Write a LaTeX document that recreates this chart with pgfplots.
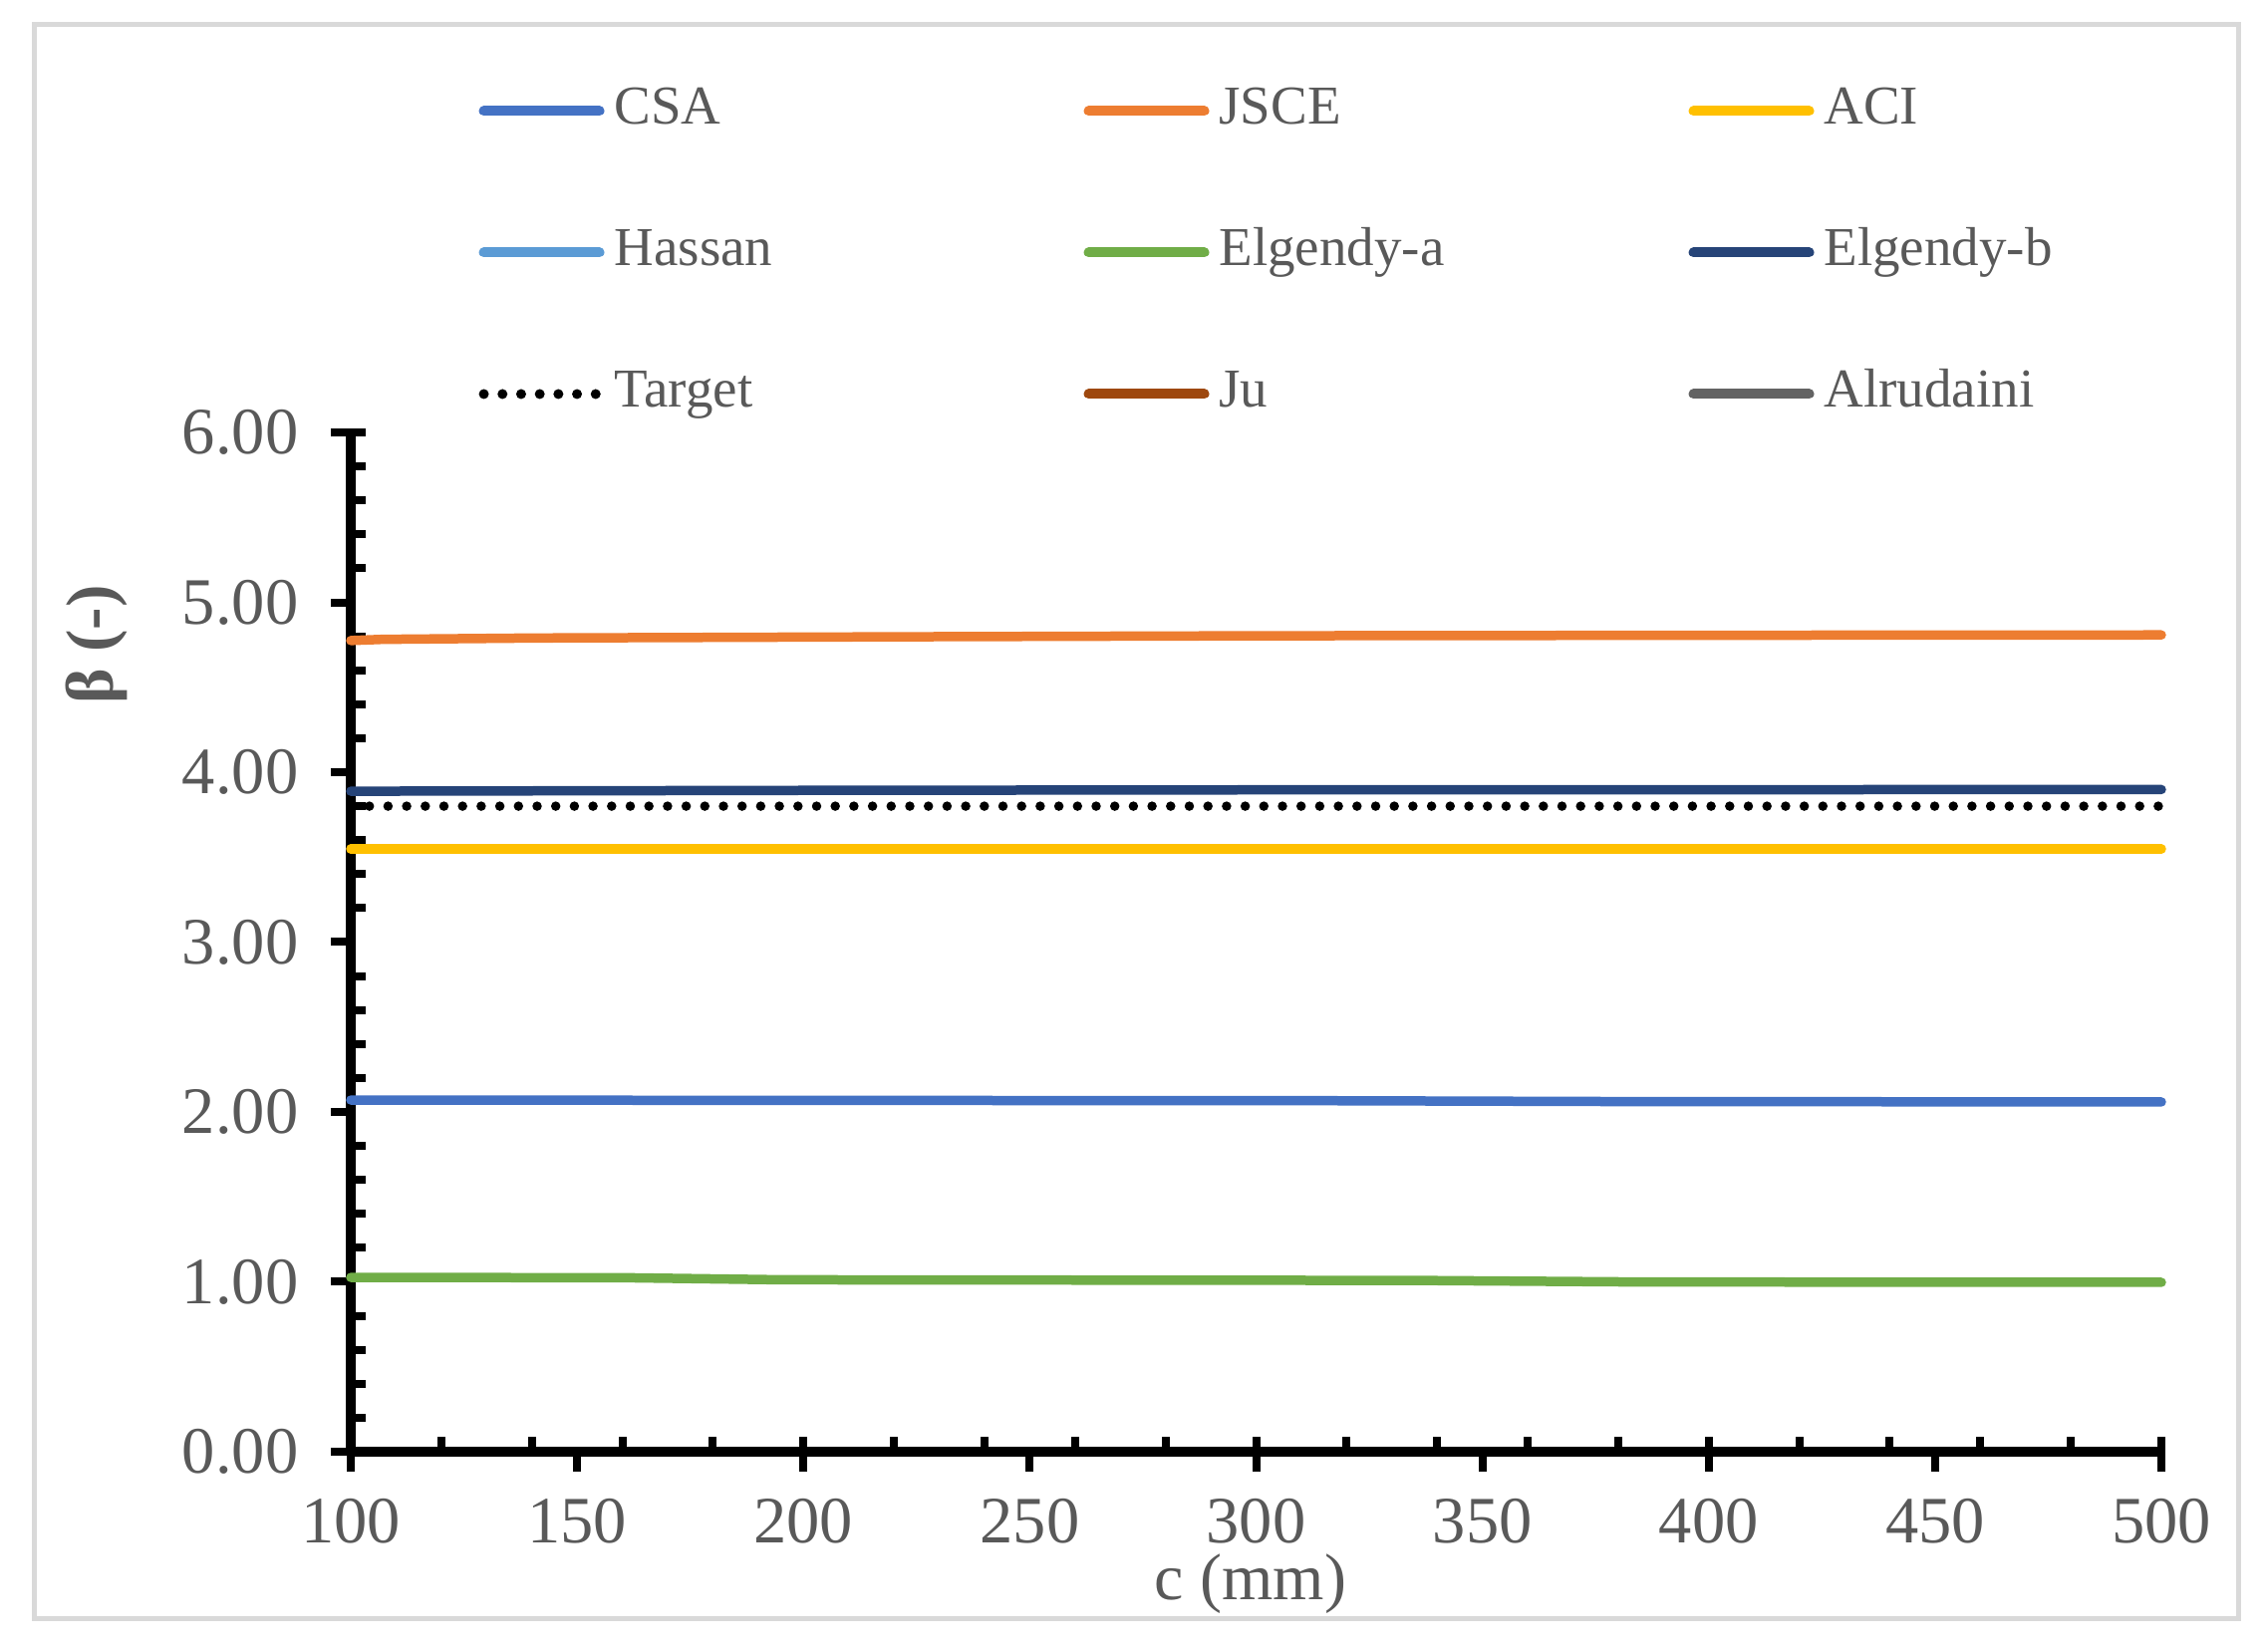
\documentclass[border=0pt]{standalone}
\usepackage{pgfplots}
\pgfplotsset{compat=1.18}
\usepackage{fontspec}
\setmainfont{Liberation Serif}

\definecolor{csa}{HTML}{4472C4}
\definecolor{jsce}{HTML}{ED7D31}
\definecolor{aci}{HTML}{FFC000}
\definecolor{hassan}{HTML}{5B9BD5}
\definecolor{elga}{HTML}{70AD47}
\definecolor{elgb}{HTML}{264478}
\definecolor{ju}{HTML}{9E480E}
\definecolor{alru}{HTML}{636363}
\definecolor{txt}{HTML}{595959}
\definecolor{chartframe}{HTML}{D9D9D9}

\begin{document}
\begin{tikzpicture}[x=1pt,y=1pt]
\path[use as bounding box] (0,0) rectangle (455.2,331.2);
\draw[chartframe, line width=1pt] (6.8,6.2) rectangle (449.2,326.2);
\begin{axis}[
  at={(70.4pt,39.8pt)}, anchor=south west,
  scale only axis, width=363.4pt, height=204.6pt,
  xmin=100, xmax=500, ymin=0, ymax=6,
  clip=false,
  axis lines=left,
  axis line style={-, line width=2pt, black},
  xtick={100,150,...,500},
  ytick={0,1,2,3,4,5,6},
  tick align=outside,
  major tick length=4pt,
  major tick style={black, line width=1.6pt},
  extra x ticks={120,140,...,500},
  extra x tick labels={},
  extra x tick style={tick align=inside, major tick length=3pt},
  extra y ticks={0.2,0.4,0.6,0.8,1.2,1.4,1.6,1.8,2.2,2.4,2.6,2.8,3.2,3.4,3.6,3.8,4.2,4.4,4.6,4.8,5.2,5.4,5.6,5.8,6},
  extra y tick labels={},
  extra y tick style={tick align=inside, major tick length=3pt},
  /pgf/number format/assume math mode=true,
  ticklabel style={font=\fontsize{13.3}{15}\selectfont, text=txt},
  xticklabel style={yshift=-2.0pt},
  yticklabel style={xshift=-3pt},
  yticklabel={\pgfmathprintnumber[fixed,fixed zerofill,precision=2]{\tick}},
  xlabel={c (mm)},
  ylabel={β (-)},
  every axis x label/.style={at={(axis description cs:0.497,-0.1450)}, anchor=base,
    inner sep=0pt, font=\fontsize{13.2}{15}\selectfont, text=txt},
  every axis y label/.style={at={(axis description cs:-0.1403,0.7918)}, anchor=center,
    rotate=90, font=\fontsize{13.5}{15}\selectfont\bfseries, text=txt},
  every axis plot/.append style={line width=1.9pt, line cap=round},
  legend image code/.code={
    \path[draw=none, fill=none] (0pt,-1pt) rectangle (27.2pt,1pt);
    \draw[#1, line width=2pt, line cap=round] (1pt,0pt) -- (24.2pt,0pt);},
  legend columns=3,
  legend cell align=left,
  legend style={at={(0.0702,1.3407)}, anchor=north west, draw=none, fill=none,
    inner sep=0pt, font=\fontsize{11}{13}\selectfont, text=txt, row sep=18.4pt,
    nodes={inner sep=0pt, text height=7.6pt, text depth=2.4pt}},
]
\addplot[csa] coordinates {(100,2.070) (317,2.066) (383,2.061) (500,2.059)};
\addlegendentry{\makebox[94.2pt][l]{CSA}}
\addplot[jsce] coordinates {(100,4.775) (107,4.782) (141,4.790) (220,4.797) (300,4.803) (400,4.806) (500,4.808)};
\addlegendentry{\makebox[94.2pt][l]{JSCE}}
\addplot[aci] coordinates {(100,3.548) (300,3.548) (500,3.548)};
\addlegendentry{\makebox[94.2pt][l]{ACI}}
\addlegendimage{hassan}
\addlegendentry{\makebox[94.2pt][l]{Hassan}}
\addplot[elga] coordinates {(100,1.026) (161,1.024) (178,1.018) (195,1.012) (336,1.008) (385,0.999) (500,0.997)};
\addlegendentry{\makebox[94.2pt][l]{Elgendy-a}}
\addplot[elgb] coordinates {(100,3.888) (200,3.893) (300,3.896) (500,3.898)};
\addlegendentry{\makebox[94.2pt][l]{Elgendy-b}}
\addplot[black, dash pattern=on 0pt off 3.74pt] coordinates {(100,3.80) (300,3.80) (500,3.80)};
\addlegendentry{\makebox[94.2pt][l]{Target}}
\addlegendimage{ju}
\addlegendentry{\makebox[94.2pt][l]{Ju}}
\addlegendimage{alru}
\addlegendentry{\makebox[94.2pt][l]{Alrudaini}}
\end{axis}
\end{tikzpicture}
\end{document}
